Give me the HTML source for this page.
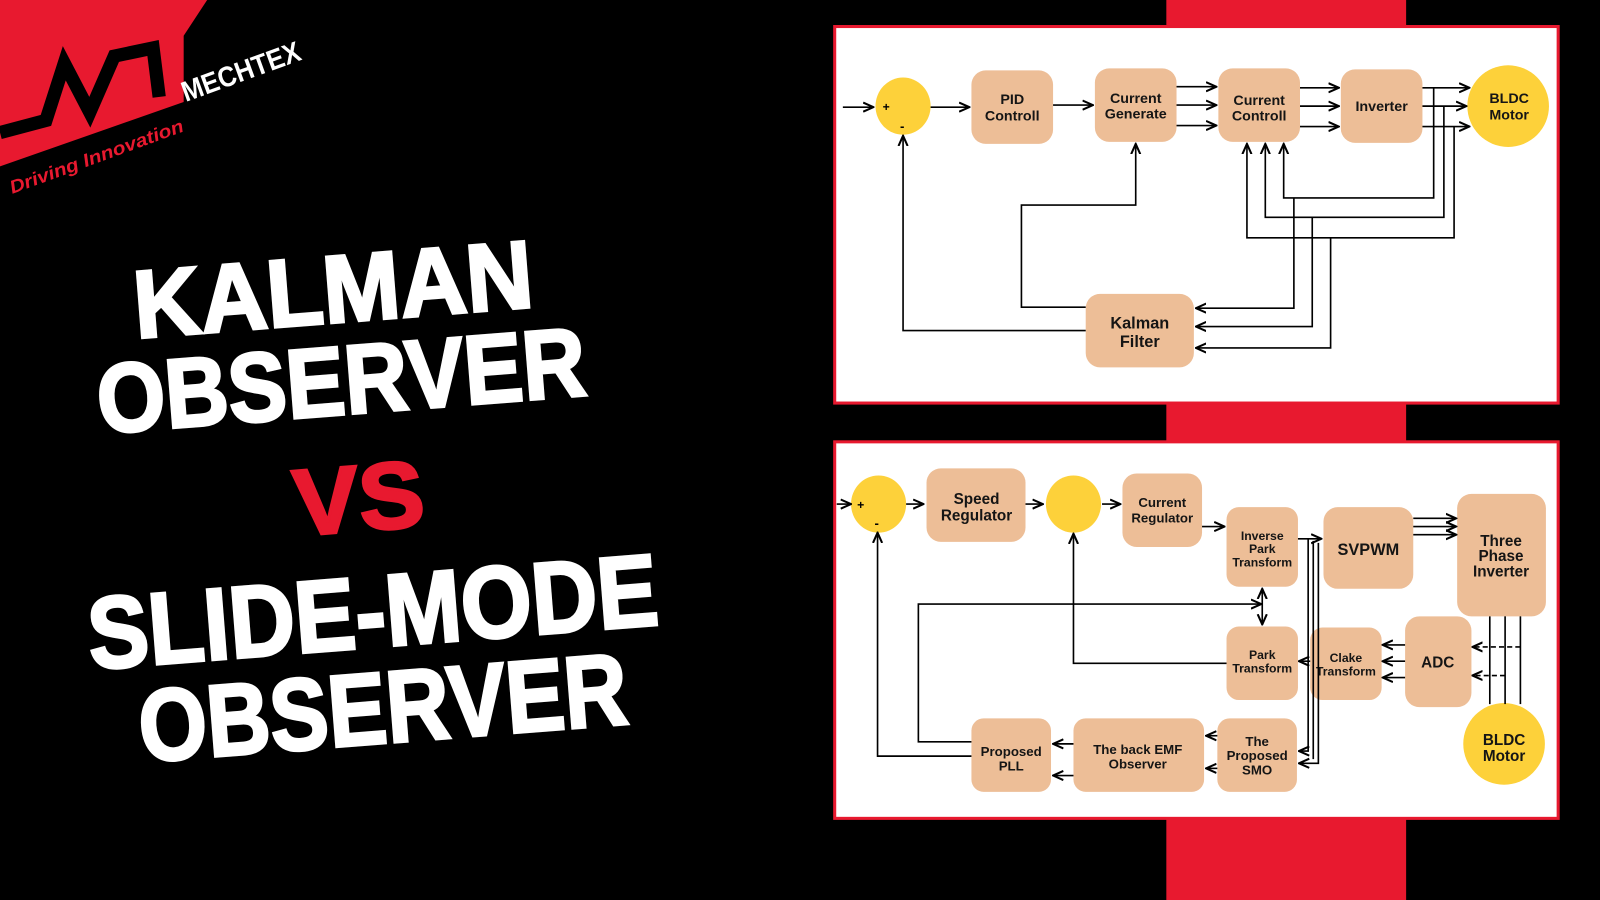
<!DOCTYPE html>
<html><head><meta charset="utf-8"><style>
html,body{margin:0;padding:0;background:#000;width:1600px;height:900px;overflow:hidden}
svg{display:block}
.b{fill:#EDBE97}
.y{fill:#FDD13A}
.t{font-family:"Liberation Sans",sans-serif;font-weight:bold;fill:#151515;text-anchor:middle}
.l{stroke:#000;stroke-width:1.6;fill:none}
.big{font-family:"Liberation Sans",sans-serif;font-weight:bold;fill:#fff;stroke:#fff;stroke-width:3}
</style></head><body>
<svg width="1600" height="900" viewBox="0 0 1568 882" preserveAspectRatio="none">
<defs><marker id="a" viewBox="0 0 10 10" refX="9" refY="5" markerWidth="7" markerHeight="7" orient="auto-start-reverse"><path d="M0,1 L9,5 L0,9" fill="none" stroke="#000" stroke-width="1.8"/></marker></defs>
<rect width="1568" height="882" fill="#000"/>
<!-- logo -->
<polygon points="0,0 203,0 180,35 180,100 0,163" fill="#E8192F"/>
<polyline points="0,130 45,118 63,62 88,110 112,55 150,47 156,95" fill="none" stroke="#000" stroke-width="13" stroke-linejoin="miter"/>
<text x="182" y="100" transform="rotate(-20 182 100)" font-family="Liberation Sans Narrow,Liberation Sans,sans-serif" font-weight="bold" font-size="28" fill="#fff" textLength="122" lengthAdjust="spacingAndGlyphs">MECHTEX</text>
<text x="12" y="190" transform="rotate(-20 12 190)" font-family="Liberation Sans,sans-serif" font-style="italic" font-weight="bold" font-size="18" fill="#E8192F" textLength="180" lengthAdjust="spacingAndGlyphs">Driving Innovation</text>
<!-- titles -->
<text class="big" x="329" y="316" transform="rotate(-4.5 329 316)" font-size="94" text-anchor="middle" textLength="392" lengthAdjust="spacingAndGlyphs">KALMAN</text>
<text class="big" x="337" y="406" transform="rotate(-4.5 337 406)" font-size="96" text-anchor="middle" textLength="480" lengthAdjust="spacingAndGlyphs">OBSERVER</text>
<text x="354" y="520" transform="rotate(-4.5 354 520)" font-size="92" text-anchor="middle" font-family="Liberation Sans,sans-serif" font-weight="bold" fill="#E8192F" stroke="#E8192F" stroke-width="3" textLength="128" lengthAdjust="spacingAndGlyphs">VS</text>
<text class="big" x="368" y="634" transform="rotate(-4.5 368 634)" font-size="100" text-anchor="middle" textLength="560" lengthAdjust="spacingAndGlyphs">SLIDE-MODE</text>
<text class="big" x="378" y="728" transform="rotate(-4.5 378 728)" font-size="100" text-anchor="middle" textLength="480" lengthAdjust="spacingAndGlyphs">OBSERVER</text>
<!-- red strip -->
<rect x="1143" y="0" width="235" height="882" fill="#E8192F"/>
<!-- top panel -->
<rect x="818" y="26" width="709" height="369" fill="#fff" stroke="#E8192F" stroke-width="3"/>
<ellipse class="y" cx="885" cy="104" rx="27" ry="28"/>
<text x="865" y="109" font-size="12" font-family="Liberation Sans" font-weight="bold">+</text>
<text x="882" y="128" font-size="13" font-family="Liberation Sans" font-weight="bold">-</text>
<rect class="b" x="952" y="69" width="80" height="72" rx="14"/>
<text class="t" font-size="14" x="992" y="102">PID</text><text class="t" font-size="14" x="992" y="118">Controll</text>
<rect class="b" x="1073" y="67" width="80" height="72" rx="14"/>
<text class="t" font-size="14" x="1113" y="101">Current</text><text class="t" font-size="14" x="1113" y="116">Generate</text>
<rect class="b" x="1194" y="67" width="80" height="72" rx="14"/>
<text class="t" font-size="14" x="1234" y="103">Current</text><text class="t" font-size="14" x="1234" y="118">Controll</text>
<rect class="b" x="1314" y="68" width="80" height="72" rx="14"/>
<text class="t" font-size="14" x="1354" y="109">Inverter</text>
<ellipse class="y" cx="1478" cy="104" rx="40" ry="40"/>
<text class="t" font-size="14" x="1479" y="101">BLDC</text><text class="t" font-size="14" x="1479" y="117">Motor</text>
<rect class="b" x="1064" y="288" width="106" height="72" rx="14"/>
<text class="t" font-size="16" x="1117" y="322">Kalman</text><text class="t" font-size="16" x="1117" y="340">Filter</text>
<g class="l">
<path d="M826,105 H856" marker-end="url(#a)"/>
<path d="M912,105 H950" marker-end="url(#a)"/>
<path d="M1032,103 H1071" marker-end="url(#a)"/>
<path d="M1153,85 H1192" marker-end="url(#a)"/><path d="M1153,103 H1192" marker-end="url(#a)"/><path d="M1153,123 H1192" marker-end="url(#a)"/>
<path d="M1274,86 H1312" marker-end="url(#a)"/><path d="M1274,104 H1312" marker-end="url(#a)"/><path d="M1274,124 H1312" marker-end="url(#a)"/>
<path d="M1394,86 H1440" marker-end="url(#a)"/><path d="M1394,104 H1437" marker-end="url(#a)"/><path d="M1394,124 H1440" marker-end="url(#a)"/>
<path d="M1405,86 V194 H1258 V141" marker-end="url(#a)"/>
<path d="M1415,104 V213 H1240 V141" marker-end="url(#a)"/>
<path d="M1425,124 V233 H1222 V141" marker-end="url(#a)"/>
<path d="M1268,194 V302 H1172" marker-end="url(#a)"/>
<path d="M1286,213 V320 H1172" marker-end="url(#a)"/>
<path d="M1304,233 V341 H1172" marker-end="url(#a)"/>
<path d="M1064,301 H1001 V201 H1113 V141" marker-end="url(#a)"/>
<path d="M1064,324 H885 V133" marker-end="url(#a)"/>
</g>
<!-- bottom panel -->
<rect x="818" y="433" width="709" height="369" fill="#fff" stroke="#E8192F" stroke-width="3"/>
<ellipse class="y" cx="861" cy="494" rx="27" ry="28"/>
<text x="840" y="499" font-size="12" font-family="Liberation Sans" font-weight="bold">+</text>
<text x="857" y="517" font-size="13" font-family="Liberation Sans" font-weight="bold">-</text>
<ellipse class="y" cx="1052" cy="494" rx="27" ry="28"/>
<rect class="b" x="908" y="459" width="97" height="72" rx="14"/>
<text class="t" font-size="15" x="957" y="494">Speed</text><text class="t" font-size="15" x="957" y="510">Regulator</text>
<rect class="b" x="1100" y="464" width="78" height="72" rx="14"/>
<text class="t" font-size="13" x="1139" y="497">Current</text><text class="t" font-size="13" x="1139" y="512">Regulator</text>
<rect class="b" x="1202" y="497" width="70" height="78" rx="12"/>
<text class="t" font-size="12" x="1237" y="529">Inverse</text><text class="t" font-size="12" x="1237" y="542">Park</text><text class="t" font-size="12" x="1237" y="555">Transform</text>
<rect class="b" x="1297" y="497" width="88" height="80" rx="14"/>
<text class="t" font-size="16" x="1341" y="544">SVPWM</text>
<rect class="b" x="1428" y="484" width="87" height="120" rx="14"/>
<text class="t" font-size="15" x="1471" y="535">Three</text><text class="t" font-size="15" x="1471" y="550">Phase</text><text class="t" font-size="15" x="1471" y="565">Inverter</text>
<rect class="b" x="1377" y="604" width="65" height="89" rx="14"/>
<text class="t" font-size="15" x="1409" y="654">ADC</text>
<rect class="b" x="1284" y="615" width="70" height="71" rx="12"/>
<text class="t" font-size="12" x="1319" y="649">Clake</text><text class="t" font-size="12" x="1319" y="662">Transform</text>
<rect class="b" x="1202" y="614" width="70" height="72" rx="12"/>
<text class="t" font-size="12" x="1237" y="646">Park</text><text class="t" font-size="12" x="1237" y="659">Transform</text>
<rect class="b" x="952" y="704" width="78" height="72" rx="12"/>
<text class="t" font-size="13" x="991" y="741">Proposed</text><text class="t" font-size="13" x="991" y="755">PLL</text>
<rect class="b" x="1052" y="704" width="128" height="72" rx="12"/>
<text class="t" font-size="13" x="1115" y="739">The back EMF</text><text class="t" font-size="13" x="1115" y="753">Observer</text>
<rect class="b" x="1193" y="704" width="78" height="72" rx="12"/>
<text class="t" font-size="13" x="1232" y="731">The</text><text class="t" font-size="13" x="1232" y="745">Proposed</text><text class="t" font-size="13" x="1232" y="759">SMO</text>
<ellipse class="y" cx="1474" cy="729" rx="40" ry="40"/>
<text class="t" font-size="15" x="1474" y="730">BLDC</text><text class="t" font-size="15" x="1474" y="746">Motor</text>
<g class="l">
<path d="M820,494 H834" marker-end="url(#a)"/>
<path d="M888,494 H905" marker-end="url(#a)"/>
<path d="M1005,494 H1022" marker-end="url(#a)"/>
<path d="M1080,494 H1098" marker-end="url(#a)"/>
<path d="M1178,516 H1200" marker-end="url(#a)"/>
<path d="M1272,528 H1295" marker-end="url(#a)"/>
<path d="M1282,528 V736 H1273" marker-end="url(#a)"/>
<path d="M1287,530 V744"/>
<path d="M1292,532 V748 H1273" marker-end="url(#a)"/>
<path d="M1385,508 H1427" marker-end="url(#a)"/><path d="M1385,516 H1427" marker-end="url(#a)"/><path d="M1385,524 H1427" marker-end="url(#a)"/>
<path d="M1460,604 V690"/><path d="M1475,604 V690"/><path d="M1490,604 V690"/>
<path d="M1490,634 H1443" stroke-dasharray="5,3" marker-end="url(#a)"/>
<path d="M1475,662 H1443" stroke-dasharray="5,3" marker-end="url(#a)"/>
<path d="M1377,632 H1355" marker-end="url(#a)"/><path d="M1377,648 H1355" marker-end="url(#a)"/><path d="M1377,664 H1355" marker-end="url(#a)"/>
<path d="M1284,648 H1273" marker-end="url(#a)"/>
<path d="M1202,650 H1052 V523" marker-end="url(#a)"/>
<path d="M1237,577 V612" marker-start="url(#a)" marker-end="url(#a)"/>
<path d="M952,727 H900 V592 H1236" marker-end="url(#a)"/>
<path d="M952,741 H860 V522" marker-end="url(#a)"/>
<path d="M1193,721 H1182" marker-end="url(#a)"/><path d="M1193,753 H1182" marker-end="url(#a)"/>
<path d="M1052,729 H1032" marker-end="url(#a)"/><path d="M1052,760 H1032" marker-end="url(#a)"/>
</g>
</svg>
</body></html>
